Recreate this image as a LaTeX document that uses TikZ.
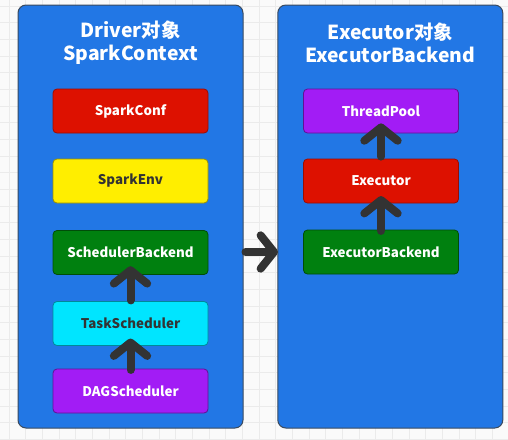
\documentclass[tikz,border=0pt]{standalone}
\usepackage{fontspec}
\setmainfont{Noto Sans CJK SC}
\usetikzlibrary{arrows.meta}
\definecolor{bgc}{HTML}{FAFAFA}
\definecolor{gridc}{HTML}{EBEBEB}
\definecolor{panelc}{HTML}{2277E5}
\definecolor{paneld}{HTML}{3A4A5E}
\definecolor{redc}{HTML}{DD1100}
\definecolor{yellowc}{HTML}{FFEE00}
\definecolor{greenc}{HTML}{00800F}
\definecolor{cyanc}{HTML}{00E5FF}
\definecolor{purplec}{HTML}{A21CF5}
\definecolor{darkc}{HTML}{333333}
\tikzset{
  panel/.style={draw=paneld, line width=0.75pt, fill=panelc, rounded corners=6pt,
    minimum width=168.75pt, minimum height=317.25pt, inner sep=0pt},
  ptitle/.style={text=white, font=\bfseries\fontsize{14.5pt}{17.25pt}\selectfont, align=center},
  box/.style={rounded corners=3pt, line width=0.6pt, minimum width=116.25pt,
    minimum height=33pt, inner sep=0pt, font=\bfseries\fontsize{10pt}{12pt}\selectfont},
  redbox/.style={box, fill=redc, draw=redc!70!black, text=white},
  yellowbox/.style={box, fill=yellowc, draw=yellowc!60!black, text=darkc},
  greenbox/.style={box, fill=greenc, draw=greenc!60!black, text=white},
  cyanbox/.style={box, fill=cyanc, draw=cyanc!60!black, text=darkc},
  purplebox/.style={box, fill=purplec, draw=purplec!60!black, text=white},
  fat/.style={draw=darkc, line width=6pt, line cap=round,
    -{Straight Barb[length=10pt, width=25pt, round]}},
  gridline/.style={draw=gridc, line width=0.6pt}
}
\begin{document}
\begin{tikzpicture}[x=0.75pt, y=-0.75pt]
\useasboundingbox (0,0) rectangle (508,440);
\fill[bgc] (0,0) rectangle (508,440);
\foreach \i in {0,...,30} \draw[gridline] ({9+16.667*\i},0) -- ({9+16.667*\i},440);
\foreach \i in {0,...,26} \draw[gridline] (0,{6+16.667*\i}) -- (508,{6+16.667*\i});

% panels
\node[panel] (lp) at (130.5,216.5) {};
\node[panel] (rp) at (390.3,216.5) {};
\node[ptitle] (lt) at (130.5,42.5) {Driver对象\\SparkContext};
\node[ptitle] (rt) at (390.3,42.5) {Executor对象\\ExecutorBackend};

% left boxes
\node[redbox] (sc) at (130.5,111) {SparkConf};
\node[yellowbox] (se) at (130.5,181) {SparkEnv};
\node[greenbox] (sb) at (130.5,252.5) {SchedulerBackend};
\node[cyanbox] (ts) at (130.5,323.5) {TaskScheduler};
\node[purplebox] (dag) at (130.5,391) {DAGScheduler};

% right boxes
\node[purplebox] (tp) at (381,111) {ThreadPool};
\node[redbox] (ex) at (381,181) {Executor};
\node[greenbox] (eb) at (381,252) {ExecutorBackend};

% arrows
\draw[fat] ([yshift=0.5pt]ts.north) -- ([yshift=6.5pt]sb.south);
\draw[fat] ([yshift=-1pt]dag.north) -- ([yshift=5.5pt]ts.south);
\draw[fat] ([yshift=1.5pt]ex.north) -- ([yshift=7.5pt]tp.south);
\draw[fat] ([yshift=-1pt]eb.north) -- ([yshift=5.5pt]ex.south);
\coordinate (hs) at (lp.east |- eb.center);
\coordinate (he) at (rp.west |- eb.center);
\draw[fat] ([xshift=1.5pt]hs) -- ([xshift=0.5pt]he);
\end{tikzpicture}
\end{document}
